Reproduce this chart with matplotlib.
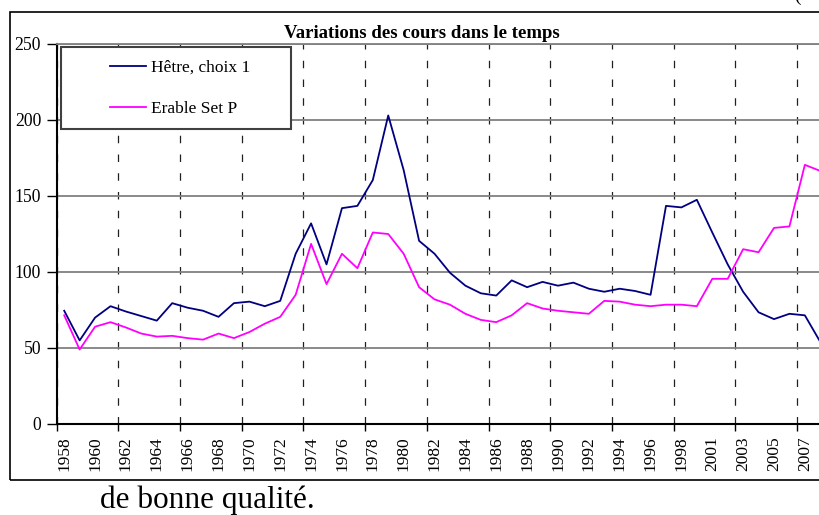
import matplotlib.pyplot as plt
from matplotlib.patches import Rectangle

plt.rcParams['font.family'] = ['Liberation Serif', 'DejaVu Serif']

# categories (one year is missing between 1998 and 2001 in the source)
years = [str(y) for y in range(1958, 2000)] + [str(y) for y in range(2001, 2009)]

hetre = [74.5, 55, 70, 77.5, 74, 71, 68, 79.5, 76.5, 74.5,
         70.5, 79.5, 80.5, 77.5, 81, 112, 132, 105, 142, 143.5,
         160.5, 203, 167, 120.5, 112, 99.5, 91, 86, 84.5, 94.5,
         90, 93.5, 91, 93, 89, 87, 89, 87.5, 85, 143.5,
         142.5, 147.5, 126, 105, 87, 73.5, 69, 72.5, 71.5, 54]

erable = [71.5, 49, 64, 67, 63.5, 59.5, 57.5, 58, 56.5, 55.5,
          59.5, 56.5, 60.5, 66, 70.5, 85, 118.5, 92, 112, 102.5,
          126, 125, 112, 90, 82, 78.5, 72.5, 68.5, 67, 71.5,
          79.5, 76, 74.5, 73.5, 72.5, 81, 80.5, 78.5, 77.5, 78.5,
          78.5, 77.5, 95.5, 95.5, 115, 113, 129, 130, 170.5, 166.5]

yticks = [0, 50, 100, 150, 200, 250]

W, H = 820, 515
fig = plt.figure(figsize=(W / 100, H / 100), dpi=100)

# outer chart frame (continues past the right edge of the crop)
fig.add_artist(Rectangle((10 / W, 1 - 480 / H), 1.0, 468 / H,
                         transform=fig.transFigure, fill=False,
                         edgecolor='black', lw=1.2))

ax = fig.add_axes([56.5 / W, 1 - 424 / H, 771.5 / W, 380 / H])
x = range(len(years))
ax.plot(x, hetre, color='#000080', lw=1.3, label='Hêtre, choix 1')
ax.plot(x, erable, color='#FF00FF', lw=1.3, label='Erable Set P')

ax.set_xlim(-0.5, len(years) - 0.5)
ax.set_ylim(0, 250)
ax.set_yticks(yticks)
ax.set_yticklabels([str(v) for v in yticks], fontsize=12.7)
ax.set_xticks(range(0, len(years), 2))
ax.set_xticklabels(years[::2], rotation=90, va='top', fontsize=12.5)
ax.set_xticks([i - 0.5 for i in range(0, len(years), 4)], minor=True)

ax.set_axisbelow(True)
ax.yaxis.grid(True, color='#808080', lw=1.3)
ax.xaxis.grid(True, which='minor', color='#202020', lw=0.9, ls=(0, (6, 9)))
ax.xaxis.grid(False, which='major')
ax.tick_params(axis='x', which='major', length=0, pad=9)
ax.tick_params(axis='x', which='minor', length=5, width=1)
ax.tick_params(axis='y', length=7, width=1, pad=4)

ax.spines['right'].set_visible(False)
ax.spines['top'].set_color('#808080')
ax.spines['top'].set_linewidth(1.3)
ax.spines['left'].set_linewidth(1.5)
ax.spines['bottom'].set_linewidth(1.5)

# legend box
ax.add_patch(Rectangle((61 / W, 1 - 129 / H), 230 / W, 82 / H,
                       transform=fig.transFigure, facecolor='white',
                       edgecolor='#404040', lw=1.5, zorder=5, clip_on=False))
leg = ax.legend(loc='center left', bbox_to_anchor=(110 / W, 1 - 88.5 / H),
                bbox_transform=fig.transFigure, frameon=False, fontsize=12.5,
                borderpad=0, borderaxespad=0, handlelength=2.1,
                handletextpad=0.25, labelspacing=1.45)
leg.set_zorder(6)

fig.text(422 / W, 1 - 33 / H, 'Variations des cours dans le temps',
         ha='center', va='center', fontsize=13.5, fontweight='bold')

fig.text(100 / W, 1 - 508 / H, 'de bonne qualité.', fontsize=22.5,
         va='baseline')
fig.text(801 / W, 1 - 1 / H, '(', fontsize=14, ha='right', va='baseline')

fig.savefig('out.png', dpi=100)
